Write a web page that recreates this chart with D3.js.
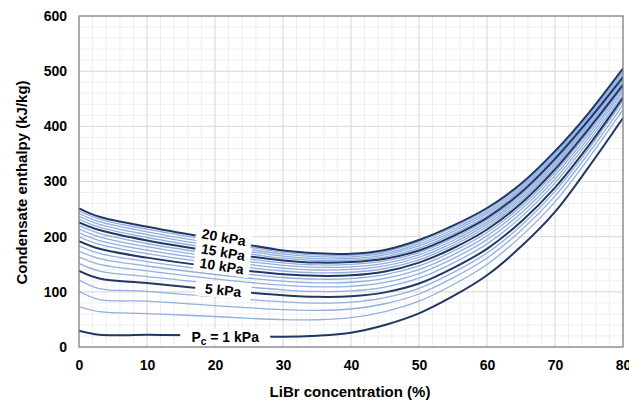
<!DOCTYPE html>
<html><head><meta charset="utf-8">
<script src="https://cdn.jsdelivr.net/npm/d3@7"></script>
<style>
body{margin:0;background:#fff}
text{font-family:"Liberation Sans",Arial,sans-serif;font-weight:bold;fill:#000}
</style>
</head><body><svg id="c" width="629" height="403"></svg>
<script>
// LiBr concentration (%) sample points
const concentration = [0, 3, 10, 20, 30, 35, 40, 45, 50, 55, 60, 65, 70, 75, 80];
// Condensate enthalpy (kJ/kg) for each condenser pressure (kPa)
const h01 = [29.3, 22, 22, 21.5, 18.5, 20.5, 26, 40, 61, 92, 130, 182, 245, 327, 415];
const h02 = [73.4, 64, 60.5, 55.3, 49.5, 49.4, 53.1, 64.2, 83.1, 112.9, 149.7, 200.5, 263, 343, 430.2];
const h03 = [101.0, 86, 83.1, 75.1, 67.6, 66.3, 68.9, 78.4, 96.1, 125.2, 161.2, 211.3, 273.6, 352.4, 439.1];
const h04 = [121.4, 106, 101, 90.8, 81.9, 79.7, 81.4, 89.6, 106.4, 134.8, 170.3, 219.8, 282, 359.8, 446.1];
const h05 = [137.8, 124, 116, 104, 94, 91, 92, 99, 115, 143, 178, 227, 289, 366, 452];
const h06 = [151.5, 137.7, 127.7, 114.4, 103.7, 100.7, 101.7, 108.7, 124.7, 152.1, 186.9, 235.4, 297.4, 373.6, 457.8];
const h07 = [163.4, 149.6, 137.8, 123.4, 112, 109, 110, 117, 133, 160.1, 194.6, 242.6, 304.6, 380.2, 462.9];
const h08 = [173.9, 160.1, 146.8, 131.4, 119.4, 116.4, 117.4, 124.4, 140.4, 167.1, 201.4, 249.1, 311.1, 386.1, 467.4];
const h09 = [183.3, 169.5, 154.8, 138.6, 126, 123, 124, 131, 147, 173.3, 207.5, 254.8, 316.8, 391.3, 471.4];
const h10 = [191.8, 178, 162, 145, 132, 129, 130, 137, 153, 179, 213, 260, 322, 396, 475];
const h11 = [199.7, 185.9, 169.2, 151.5, 137.8, 134.5, 135.5, 142.3, 158.1, 184.1, 217.9, 264.6, 326.4, 399.7, 478.2];
const h12 = [206.9, 193, 175.7, 157.4, 143.1, 139.6, 140.6, 147.2, 162.7, 188.7, 222.3, 268.8, 330.4, 403.1, 481.2];
const h13 = [213.7, 199.8, 181.8, 162.9, 148, 144.4, 145.4, 151.7, 167.1, 193.1, 226.4, 272.8, 334.2, 406.2, 484];
const h14 = [220.0, 206, 187.6, 168.1, 152.6, 148.8, 149.8, 156, 171.2, 197.2, 230.3, 276.5, 337.7, 409.2, 486.6];
const h15 = [226, 212, 193, 173, 157, 153, 154, 160, 175, 201, 234, 280, 341, 412, 489];
const h16 = [231.6, 217.3, 198.5, 178.1, 161, 156.7, 157.3, 163.5, 179.2, 205.2, 238, 283.5, 344.1, 414.9, 492.5];
const h17 = [236.9, 222.3, 203.7, 182.9, 164.7, 160.3, 160.4, 166.9, 183.2, 209.2, 241.7, 286.9, 347, 417.6, 495.9];
const h18 = [242.0, 227.1, 208.8, 187.5, 168.3, 163.7, 163.5, 170.1, 187, 213, 245.3, 290.1, 349.8, 420.2, 499.1];
const h19 = [246.8, 231.7, 213.5, 191.8, 171.7, 166.9, 166.3, 173.1, 190.6, 216.6, 248.7, 293.1, 352.5, 422.6, 502.1];
const h20 = [251.4, 236, 218, 196, 175, 170, 169, 176, 194, 220, 252, 296, 355, 425, 505];
const pressures = [1,2,3,4,5,6,7,8,9,10,11,12,13,14,15,16,17,18,19,20];
const highlighted = [1, 5, 10, 15, 20];
const xTicks = [0, 10, 20, 30, 40, 50, 60, 70, 80];
const yTicks = [0, 100, 200, 300, 400, 500, 600];
const curveLabels = [
  {text: "20 kPa", x: 21.3, y: 199, angle: 10},
  {text: "15 kPa", x: 21.2, y: 172, angle: 10},
  {text: "10 kPa", x: 21.0, y: 147, angle: 9},
  {text: "5 kPa",  x: 21.2, y: 103, angle: 6},
  {text: "Pc = 1 kPa", x: 21.5, y: 18.5, angle: 0}
];
const seriesValues = [h01,h02,h03,h04,h05,h06,h07,h08,h09,h10,h11,h12,h13,h14,h15,h16,h17,h18,h19,h20];
const series = pressures.map((p, i) => ({p, values: seriesValues[i]}));

const W = 629, H = 403;
const m = {left: 79, right: 6, top: 16, bottom: 56};
const svg = d3.select("#c");
svg.append("rect").attr("width", W).attr("height", H).attr("fill", "#fff");

const x = d3.scaleLinear().domain([0, 80]).range([m.left, W - m.right]);
const y = d3.scaleLinear().domain([0, 600]).range([H - m.bottom, m.top]);

// grid
const g = svg.append("g");
g.selectAll("line.mx").data(d3.range(0, 81, 2)).join("line")
  .attr("x1", d => x(d)).attr("x2", d => x(d)).attr("y1", y(0)).attr("y2", y(600))
  .attr("stroke", "#efefef").attr("stroke-width", 1);
g.selectAll("line.my").data(d3.range(0, 601, 20)).join("line")
  .attr("y1", d => y(d)).attr("y2", d => y(d)).attr("x1", x(0)).attr("x2", x(80))
  .attr("stroke", "#efefef").attr("stroke-width", 1);
g.selectAll("line.Mx").data(xTicks).join("line")
  .attr("x1", d => x(d)).attr("x2", d => x(d)).attr("y1", y(0)).attr("y2", y(600))
  .attr("stroke", "#dcdcdc").attr("stroke-width", 1);
g.selectAll("line.My").data(yTicks).join("line")
  .attr("y1", d => y(d)).attr("y2", d => y(d)).attr("x1", x(0)).attr("x2", x(80))
  .attr("stroke", "#dcdcdc").attr("stroke-width", 1);

svg.append("clipPath").attr("id", "clip").append("rect")
  .attr("x", x(0)).attr("y", y(600)).attr("width", x(80) - x(0)).attr("height", y(0) - y(600));

const line = d3.line()
  .x((d, i) => x(concentration[i]))
  .y(d => y(d))
  .curve(d3.curveCatmullRom.alpha(0.5));

const lines = svg.append("g").attr("clip-path", "url(#clip)");
lines.selectAll("path.light").data(series.filter(s => !highlighted.includes(s.p))).join("path")
  .attr("d", s => line(s.values)).attr("fill", "none")
  .attr("stroke", "#93afdf").attr("stroke-width", 1.3);
lines.selectAll("path.dark").data(series.filter(s => highlighted.includes(s.p))).join("path")
  .attr("d", s => line(s.values)).attr("fill", "none")
  .attr("stroke", "#203864").attr("stroke-width", 2);

// labels with white backgrounds
const lab = svg.append("g");
const lg = lab.selectAll("g").data(curveLabels).join("g")
  .attr("transform", d => `translate(${x(d.x)},${y(d.y)}) rotate(${d.angle})`);
lg.append("rect")
  .attr("x", d => d.text.startsWith("Pc") ? -45 : -28)
  .attr("width", d => d.text.startsWith("Pc") ? 90 : 56)
  .attr("y", -8).attr("height", 16).attr("fill", "#fff");
lg.each(function(d) {
  const t = d3.select(this).append("text").attr("text-anchor", "middle").attr("dy", "0.36em")
    .style("font-size", "14px");
  if (d.text.startsWith("Pc")) {
    t.append("tspan").text("P");
    t.append("tspan").text("c").style("font-size", "10px").attr("dy", "3");
    t.append("tspan").text(" = 1 kPa").attr("dy", "-3");
  } else {
    t.text(d.text);
  }
});

// border
svg.append("rect").attr("x", x(0)).attr("y", y(600)).attr("width", x(80) - x(0)).attr("height", y(0) - y(600))
  .attr("fill", "none").attr("stroke", "#808080").attr("stroke-width", 1.2);

// axes
const xa = svg.append("g").attr("transform", `translate(0,${y(0)})`)
  .call(d3.axisBottom(x).tickValues(xTicks).tickSize(0).tickPadding(13));
xa.select(".domain").remove();
xa.selectAll("text").style("font-size", "14px").style("font-family", '"Liberation Sans",Arial,sans-serif').style("font-weight", "bold").attr("fill", "#000");
const ya = svg.append("g").attr("transform", `translate(${x(0)},0)`)
  .call(d3.axisLeft(y).tickValues(yTicks).tickSize(0).tickPadding(12));
ya.select(".domain").remove();
ya.selectAll("text").style("font-size", "14px").style("font-family", '"Liberation Sans",Arial,sans-serif').style("font-weight", "bold").attr("fill", "#000");

svg.append("text").attr("x", 350).attr("y", 397).attr("text-anchor", "middle")
  .style("font-size", "15px").text("LiBr concentration (%)");
svg.append("text").attr("transform", `translate(27,${(y(0)+y(600))/2 + 1}) rotate(-90)`).attr("text-anchor", "middle")
  .style("font-size", "15px").text("Condensate enthalpy (kJ/kg)");
</script>
</body></html>
